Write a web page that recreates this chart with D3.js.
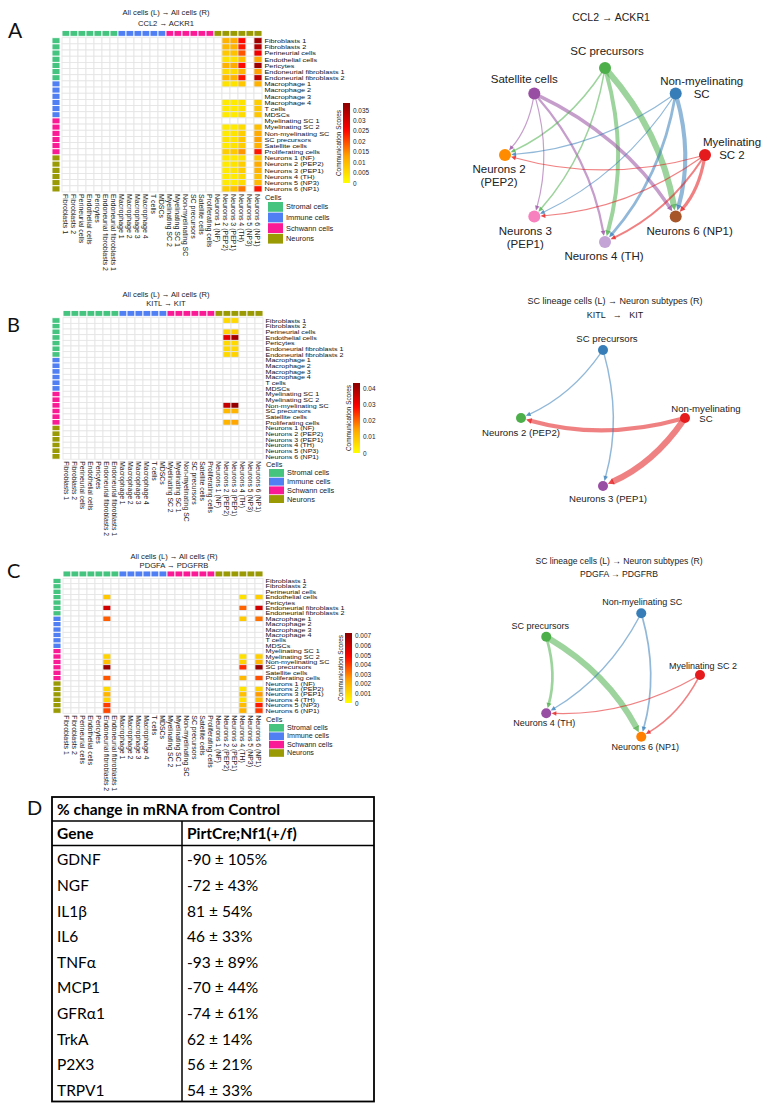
<!DOCTYPE html>
<html>
<head>
<meta charset="utf-8">
<script src="https://cdn.jsdelivr.net/npm/d3@7"></script>
<style>
  body { margin: 0; background: #fff; }
  svg text { font-family: "Liberation Sans", Arial, sans-serif; }
  .tbl text { font-family: Lato, "Liberation Sans", sans-serif; }
</style>
</head>
<body>
<svg id="fig" width="763" height="1108"></svg>
<script>
// ---------------- data ----------------
const cellTypes = ["Fibroblasts 1","Fibroblasts 2","Perineurial cells","Endothelial cells","Pericytes",
  "Endoneurial fibroblasts 1","Endoneurial fibroblasts 2","Macrophage 1","Macrophage 2","Macrophage 3",
  "Macrophage 4","T cells","MDSCs","Myelinating SC 1","Myelinating SC 2","Non-myelinating SC",
  "SC precursors","Satellite cells","Proliferating cells","Neurons 1 (NF)","Neurons 2 (PEP2)",
  "Neurons 3 (PEP1)","Neurons 4 (TH)","Neurons 5 (NP3)","Neurons 6 (NP1)"];
const receiverOrder = ["Fibroblasts 1","Fibroblasts 2","Perineurial cells","Endothelial cells","Pericytes",
  "Endoneurial fibroblasts 2","Endoneurial fibroblasts 1","Macrophage 1","Macrophage 2","Macrophage 3",
  "Macrophage 4","T cells","MDSCs","Myelinating SC 2","Myelinating SC 1","Non-myelinating SC",
  "SC precursors","Satellite cells","Proliferating cells","Neurons 1 (NF)","Neurons 2 (PEP2)",
  "Neurons 3 (PEP1)","Neurons 4 (TH)","Neurons 5 (NP3)","Neurons 6 (NP1)"];
const groupNames = ["Stromal cells","Immune cells","Schwann cells","Neurons"];
const groupSizes = [7, 6, 6, 6];
const groupColors = ["#45c47f","#4f7ff2","#fb1a95","#9a9a05"];

// CCL2 -> ACKR1 (rows: senders, values for the receivers listed)
const ccl2Receivers = ["Neurons 2 (PEP2)","Neurons 3 (PEP1)","Neurons 4 (TH)","Neurons 6 (NP1)"];
const ccl2Scores = [
  [0.011,0.012,0.025,0.036],
  [0.010,0.011,0.024,0.034],
  [0.008,0.009,0.019,0.027],
  [0.004,0.004,0.009,0.012],
  [0.011,0.012,0.025,0.036],
  [0.005,0.005,0.011,0.013],
  [0.010,0.011,0.024,0.033],
  [0.004,0.004,0.008,0.011],
  null,
  null,
  [0.003,0.003,0.004,0.007],
  [0.003,0.003,0.004,0.008],
  [0.003,0.003,0.005,0.008],
  null,
  [0.003,0.003,0.005,0.009],
  [0.003,0.004,0.007,0.012],
  [0.004,0.004,0.008,0.013],
  [0.003,0.004,0.007,0.011],
  [0.007,0.008,0.014,0.024],
  [0.003,0.003,0.004,0.008],
  [0.003,0.004,0.007,0.012],
  [0.003,0.004,0.007,0.011],
  [0.003,0.003,0.005,0.009],
  [0.003,0.003,0.005,0.010],
  [0.007,0.009,0.016,0.024]
];
const ccl2Ticks = [0,0.005,0.01,0.015,0.02,0.025,0.03,0.035];

// KITL -> KIT
const kitReceivers = ["Neurons 2 (PEP2)","Neurons 3 (PEP1)"];
const kitScores = [
  [0.006,0.006], null, [0.007,0.008], [0.032,0.040], [0.006,0.006], [0.006,0.006], [0.006,0.007],
  null, null, null, null, null, null, null, null,
  [0.036,0.042], [0.011,0.012], null, [0.012,0.014],
  null, null, null, null, null, null
];
const kitTicks = [0,0.01,0.02,0.03,0.04];

// PDGFA -> PDGFRB
const pdgfReceivers = ["Endoneurial fibroblasts 2","Neurons 4 (TH)","Neurons 6 (NP1)"];
const pdgfScores = [
  null, null, null,
  [0.0015,0.0008,0.0013],
  null,
  [0.0058,0.0034,0.0058],
  null,
  [0.0035,0.0014,0.0032],
  null, null, null, null, null, null,
  [0.0012,0.0008,0.0013],
  [0.0017,0.0012,0.0020],
  [0.0070,0.0042,0.0071],
  null,
  [0.0036,0.0019,0.0037],
  null,
  [0.0010,0.0007,0.0012],
  [0.0020,0.0017,0.0026],
  [0.0012,0.0008,0.0018],
  [0.0040,0.0018,0.0045],
  [0.0038,0.0020,0.0040]
];
const pdgfTicks = [0,0.001,0.002,0.003,0.004,0.005,0.006,0.007];

// circle-plot networks (relative interaction strength, senders x targets)
const ccl2Nodes = ["Myelinating SC 2","Neurons 6 (NP1)","Neurons 4 (TH)","Neurons 3 (PEP1)",
  "Neurons 2 (PEP2)","Satellite cells","SC precursors","Non-myelinating SC"];
const ccl2NodeColors = ["#e41a1c","#a65628","#c4a3d6","#f781bf","#ff8c00","#984ea3","#4daf4a","#377eb8"];
const ccl2Senders = ["SC precursors","Satellite cells","Non-myelinating SC","Myelinating SC 2"];
const ccl2Targets = ["Neurons 2 (PEP2)","Neurons 3 (PEP1)","Neurons 4 (TH)","Neurons 6 (NP1)"];
const ccl2Strength = [[0.2,0.2,0.62,1],[0.15,0.15,0.33,0.55],[0.15,0.15,0.42,0.65],[0.15,0.15,0.3,0.5]];

const kitNodes = ["Non-myelinating SC","Neurons 3 (PEP1)","Neurons 2 (PEP2)","SC precursors"];
const kitNodeColors = ["#e41a1c","#984ea3","#4daf4a","#377eb8"];
const kitSenders = ["SC precursors","Non-myelinating SC"];
const kitTargets = ["Neurons 2 (PEP2)","Neurons 3 (PEP1)"];
const kitStrength = [[0.17,0.2],[0.66,1]];

const pdgfNodes = ["Myelinating SC 2","Neurons 6 (NP1)","Neurons 4 (TH)","SC precursors","Non-myelinating SC"];
const pdgfNodeColors = ["#e41a1c","#ff7f00","#984ea3","#4daf4a","#377eb8"];
const pdgfSenders = ["SC precursors","Non-myelinating SC","Myelinating SC 2"];
const pdgfTargets = ["Neurons 4 (TH)","Neurons 6 (NP1)"];
const pdgfStrength = [[0.42,1],[0.17,0.25],[0.17,0.22]];

// qPCR table
const tableGenes = ["GDNF","NGF","IL1β","IL6","TNFα","MCP1","GFRα1","TrkA","P2X3","TRPV1"];
const tableMean = [-90,-72,81,46,-93,-70,-74,62,56,54];
const tableErr = [105,43,54,33,89,44,61,14,21,33];

// ---------------- drawing ----------------
const svg = d3.select("#fig");
const defs = svg.append("defs");
const heatRamp = ["#ffff00","#ffa500","#ff0000","#8b0000"];
const groupOf = [];
groupSizes.forEach((n, gi) => { for (let i = 0; i < n; i++) groupOf.push(gi); });
const fmt = v => String(+v.toFixed(4));

function panelLetter(t, x, y, size) {
  svg.append("text").attr("x", x).attr("y", y).attr("font-size", size)
    .style("font-family", "Lato, 'Liberation Sans', sans-serif").attr("fill", "#111").text(t);
}

function drawHeatmap(p) {
  const g = svg.append("g");
  const nR = cellTypes.length;
  const x = d3.scaleBand().domain(receiverOrder).range([p.gx, p.gx + 200]);
  const y = d3.scaleBand().domain(cellTypes).range([p.gy, p.gy + nR * p.rowH]);
  const color = d3.scaleLinear().domain([0, p.max / 3, 2 * p.max / 3, p.max]).range(heatRamp).clamp(true);

  // titles
  p.titles.forEach((t, i) => {
    g.append("text").attr("x", p.titleX).attr("y", p.titleY[i]).attr("text-anchor", "middle")
      .attr("dominant-baseline", "central").attr("font-size", 7.6).attr("fill", "#222")
      .style("white-space", "pre").text(t);
  });

  const cells = [];
  cellTypes.forEach((src, i) => receiverOrder.forEach(tgt => {
    const k = p.receivers.indexOf(tgt);
    const v = (k >= 0 && p.scores[i]) ? p.scores[i][k] : null;
    cells.push({ src, tgt, v });
  }));
  g.selectAll("rect.cell").data(cells).join("rect").attr("class", "cell")
    .attr("x", d => x(d.tgt)).attr("y", d => y(d.src))
    .attr("width", x.bandwidth()).attr("height", y.bandwidth())
    .attr("fill", d => d.v == null ? "#fff" : color(d.v))
    .attr("stroke", "#e4e4e4").attr("stroke-width", 0.8);

  // group annotations
  g.selectAll("rect.colann").data(receiverOrder).join("rect").attr("class", "colann")
    .attr("x", d => x(d)).attr("y", p.colBarY).attr("width", x.bandwidth())
    .attr("height", p.gy - p.colBarY - 1.4)
    .attr("fill", d => groupColors[groupOf[cellTypes.indexOf(d)]])
    .attr("stroke", "#fff").attr("stroke-width", 0.9);
  g.selectAll("rect.rowann").data(cellTypes).join("rect").attr("class", "rowann")
    .attr("x", p.rowBarX).attr("y", d => y(d)).attr("width", 8).attr("height", y.bandwidth())
    .attr("fill", (d, i) => groupColors[groupOf[i]])
    .attr("stroke", "#fff").attr("stroke-width", 0.9);

  // row labels: compact glyph height so neighbouring rows stay apart, widened to the usual width
  const fsRow = p.rowH * 0.98, sxRow = p.labelSize / fsRow;
  g.selectAll("text.rowlab").data(cellTypes).join("text").attr("class", "rowlab")
    .attr("transform", d => `translate(${p.gx + 202.5},${y(d) + y.bandwidth() / 2}) scale(${sxRow},1)`)
    .attr("dominant-baseline", "central").attr("font-size", fsRow).attr("fill", "#111").text(d => d);
  g.selectAll("text.collab").data(receiverOrder).join("text").attr("class", "collab")
    .attr("transform", d => `translate(${x(d) + x.bandwidth() / 2 - 0.2},${p.gy + nR * p.rowH + 2}) rotate(90)`)
    .attr("dominant-baseline", "central").attr("font-size", p.labelSize - 0.3).attr("fill", "#222").text(d => d);

  // colour bar
  const gid = "grad" + p.id;
  const grad = defs.append("linearGradient").attr("id", gid).attr("x1", 0).attr("y1", 1).attr("x2", 0).attr("y2", 0);
  d3.range(0, 1.0001, 0.05).forEach(t => grad.append("stop").attr("offset", t).attr("stop-color", color(t * p.max)));
  g.append("rect").attr("x", p.barX).attr("y", p.barY).attr("width", 7).attr("height", p.barH)
    .attr("fill", `url(#${gid})`);
  const bs = d3.scaleLinear().domain([0, p.max]).range([p.barY + p.barH, p.barY]);
  g.selectAll("text.tick").data(p.ticks).join("text").attr("class", "tick")
    .attr("x", p.barX + 10).attr("y", d => bs(d)).attr("dominant-baseline", "central")
    .attr("font-size", 6.4).attr("fill", "#222").text(fmt);
  g.append("text").attr("transform", `translate(${p.barX - 4.5},${p.barY + p.barH / 2}) rotate(-90)`)
    .attr("text-anchor", "middle").attr("dominant-baseline", "central").attr("font-size", 6.4)
    .attr("fill", "#222").text("Communication Scores");

  // group legend
  const lx = p.gx + 206;
  g.append("text").attr("x", p.gx + 203).attr("y", p.cellsY).attr("dominant-baseline", "central")
    .attr("font-size", 7.4).attr("fill", "#222").text("Cells");
  groupNames.forEach((name, i) => {
    const yy = p.cellsY + 5 + i * p.legStep;
    g.append("rect").attr("x", lx).attr("y", yy).attr("width", 15).attr("height", p.legStep - 0.8)
      .attr("fill", groupColors[i]);
    g.append("text").attr("x", lx + 18).attr("y", yy + (p.legStep - 0.8) / 2)
      .attr("dominant-baseline", "central").attr("font-size", Math.min(7.4, p.legStep * 0.85))
      .attr("fill", "#222").text(name);
  });
}

function drawNetwork(p) {
  const g = svg.append("g");
  const n = p.nodes.length;
  const ang = d3.scaleLinear().domain([0, n]).range([0, 2 * Math.PI]);
  const pos = new Map(p.nodes.map((name, i) => [name,
    [p.cx + p.rx * Math.cos(ang(i)), p.cy + p.ry * Math.sin(ang(i))]]));
  const col = new Map(p.nodes.map((name, i) => [name, p.colors[i]]));
  const width = d3.scaleLinear().domain([0, 1]).range([0.3, p.maxW]);

  p.titles.forEach((t, i) => {
    g.append("text").attr("x", p.titleX).attr("y", p.titleY[i]).attr("text-anchor", "middle")
      .attr("dominant-baseline", "central").attr("font-size", p.titleSize).attr("fill", "#222")
      .style("white-space", "pre").text(t);
  });

  const edges = [];
  p.senders.forEach((s, i) => p.targets.forEach((t, j) => edges.push({ s, t, w: p.strength[i][j] })));
  edges.sort((a, b) => b.w - a.w);

  edges.forEach(e => {
    const [x0, y0] = pos.get(e.s), [x2, y2] = pos.get(e.t);
    const dx = x2 - x0, dy = y2 - y0, len = Math.hypot(dx, dy);
    const cx = (x0 + x2) / 2 + dy / len * len * 0.14;
    const cy = (y0 + y2) / 2 - dx / len * len * 0.14;
    const sw = Math.max(0.9, width(e.w));
    let ux = x2 - cx, uy = y2 - cy; const ul = Math.hypot(ux, uy); ux /= ul; uy /= ul;
    let vx = cx - x0, vy = cy - y0; const vl = Math.hypot(vx, vy); vx /= vl; vy /= vl;
    const tipX = x2 - ux * (p.r + 0.3), tipY = y2 - uy * (p.r + 0.3);
    const aL = 4.5 + sw * 0.25, aH = 2 + sw * 0.2;
    const bX = tipX - ux * aL, bY = tipY - uy * aL;
    const sX = x0 + vx * p.r * 0.6, sY = y0 + vy * p.r * 0.6;
    const c = col.get(e.s);
    g.append("path").attr("d", `M${sX},${sY}Q${cx},${cy} ${bX + ux},${bY + uy}`)
      .attr("fill", "none").attr("stroke", c).attr("stroke-opacity", 0.55).attr("stroke-width", sw);
    g.append("path")
      .attr("d", `M${tipX},${tipY}L${bX - uy * aH},${bY + ux * aH}L${bX + uy * aH},${bY - ux * aH}Z`)
      .attr("fill", c).attr("fill-opacity", 0.8);
  });

  g.selectAll("circle").data(p.nodes).join("circle")
    .attr("cx", d => pos.get(d)[0]).attr("cy", d => pos.get(d)[1]).attr("r", p.r)
    .attr("fill", d => col.get(d));

  p.nodes.forEach(name => {
    const [nx, ny] = pos.get(name);
    const pl = p.labels[name];
    pl.lines.forEach((line, k) => {
      g.append("text").attr("x", nx + pl.dx).attr("y", ny + pl.dy + k * p.lineH)
        .attr("text-anchor", "middle").attr("dominant-baseline", "central")
        .attr("font-size", p.labelSize).attr("fill", "#222").text(line);
    });
  });
}

// ----- A -----
panelLetter("A", 8, 38, 21);
drawHeatmap({ id: "A", gx: 62, gy: 37.7, rowH: 6.17, colBarY: 30.5, rowBarX: 52,
  titles: ["All cells (L) \u2192 All cells (R)", "CCL2 \u2192 ACKR1"], titleX: 166, titleY: [12.5, 23],
  receivers: ccl2Receivers, scores: ccl2Scores, max: 0.0384, ticks: ccl2Ticks,
  barX: 343, barY: 103, barH: 80, labelSize: 7.3, cellsY: 197, legStep: 10.6 });
drawNetwork({ nodes: ccl2Nodes, colors: ccl2NodeColors, senders: ccl2Senders, targets: ccl2Targets,
  strength: ccl2Strength, cx: 605, cy: 155, rx: 100, ry: 87, r: 6, maxW: 6.2,
  titles: ["CCL2 \u2192 ACKR1"], titleX: 611, titleY: [17], titleSize: 10.5, labelSize: 11.5, lineH: 13,
  labels: {
    "SC precursors": { dx: 2, dy: -17, lines: ["SC precursors"] },
    "Satellite cells": { dx: -10, dy: -14, lines: ["Satellite cells"] },
    "Non-myelinating SC": { dx: 26, dy: -12, lines: ["Non-myelinating", "SC"] },
    "Myelinating SC 2": { dx: 27, dy: -13, lines: ["Myelinating", "SC 2"] },
    "Neurons 2 (PEP2)": { dx: -6, dy: 14, lines: ["Neurons 2", "(PEP2)"] },
    "Neurons 3 (PEP1)": { dx: -9, dy: 14, lines: ["Neurons 3", "(PEP1)"] },
    "Neurons 4 (TH)": { dx: -1, dy: 14, lines: ["Neurons 4 (TH)"] },
    "Neurons 6 (NP1)": { dx: 14, dy: 14, lines: ["Neurons 6 (NP1)"] }
  } });

// ----- B -----
panelLetter("B", 7, 332, 20);
drawHeatmap({ id: "B", gx: 63, gy: 317.7, rowH: 5.66, colBarY: 310.5, rowBarX: 52,
  titles: ["All cells (L) \u2192 All cells (R)", "KITL \u2192 KIT"], titleX: 166, titleY: [294, 303],
  receivers: kitReceivers, scores: kitScores, max: 0.0431, ticks: kitTicks,
  barX: 353, barY: 383, barH: 70, labelSize: 7.1, cellsY: 464, legStep: 8.7 });
drawNetwork({ nodes: kitNodes, colors: kitNodeColors, senders: kitSenders, targets: kitTargets,
  strength: kitStrength, cx: 603, cy: 418, rx: 82, ry: 68, r: 5, maxW: 6.2,
  titles: ["SC lineage cells (L) \u2192 Neuron subtypes (R)", "KITL   \u2192   KIT"], titleX: 615,
  titleY: [301, 315], titleSize: 9, labelSize: 9.6, lineH: 10.5,
  labels: {
    "SC precursors": { dx: 4, dy: -12, lines: ["SC precursors"] },
    "Neurons 2 (PEP2)": { dx: 0, dy: 14, lines: ["Neurons 2 (PEP2)"] },
    "Non-myelinating SC": { dx: 21, dy: -10, lines: ["Non-myelinating", "SC"] },
    "Neurons 3 (PEP1)": { dx: 5, dy: 12, lines: ["Neurons 3 (PEP1)"] }
  } });

// ----- C -----
panelLetter("C", 7, 578, 20);
drawHeatmap({ id: "C", gx: 63, gy: 578.3, rowH: 5.4, colBarY: 571, rowBarX: 53,
  titles: ["All cells (L) \u2192 All cells (R)", "PDGFA \u2192 PDGFRB"], titleX: 174, titleY: [556, 565],
  receivers: pdgfReceivers, scores: pdgfScores, max: 0.0073, ticks: pdgfTicks,
  barX: 345, barY: 633, barH: 70, labelSize: 7.2, cellsY: 719, legStep: 8.4 });
drawNetwork({ nodes: pdgfNodes, colors: pdgfNodeColors, senders: pdgfSenders, targets: pdgfTargets,
  strength: pdgfStrength, cx: 615, cy: 675, rx: 85, ry: 65, r: 5, maxW: 6,
  titles: ["SC lineage cells (L) \u2192 Neuron subtypes (R)", "PDGFA \u2192 PDGFRB"], titleX: 619,
  titleY: [561, 574], titleSize: 8.6, labelSize: 9, lineH: 10,
  labels: {
    "Non-myelinating SC": { dx: 1, dy: -11, lines: ["Non-myelinating SC"] },
    "SC precursors": { dx: -6, dy: -11, lines: ["SC precursors"] },
    "Myelinating SC 2": { dx: 3, dy: -9, lines: ["Myelinating SC 2"] },
    "Neurons 4 (TH)": { dx: -2, dy: 10, lines: ["Neurons 4 (TH)"] },
    "Neurons 6 (NP1)": { dx: 4, dy: 10, lines: ["Neurons 6 (NP1)"] }
  } });

// ----- D: table -----
panelLetter("D", 27, 815, 20);
(function drawTable() {
  const t = svg.append("g").attr("class", "tbl");
  const left = 52, right = 374, top = 797, divX = 182;
  const h1 = 24, h2 = 24.5, rowH = 25.6;
  const y = d3.scaleBand().domain(tableGenes).range([top + h1 + h2, top + h1 + h2 + rowH * tableGenes.length]);
  const bottom = y.range()[1];
  const fs = 15.5;
  t.append("rect").attr("x", left).attr("y", top).attr("width", right - left).attr("height", bottom - top)
    .attr("fill", "none").attr("stroke", "#000").attr("stroke-width", 1.8);
  t.append("line").attr("x1", left).attr("x2", right).attr("y1", top + h1).attr("y2", top + h1)
    .attr("stroke", "#000").attr("stroke-width", 1.5);
  t.append("line").attr("x1", left).attr("x2", right).attr("y1", top + h1 + h2).attr("y2", top + h1 + h2)
    .attr("stroke", "#000").attr("stroke-width", 1.5);
  t.append("line").attr("x1", divX).attr("x2", divX).attr("y1", top + h1).attr("y2", bottom)
    .attr("stroke", "#000").attr("stroke-width", 1.5);
  t.append("text").attr("x", left + 5).attr("y", top + h1 / 2).attr("dominant-baseline", "central")
    .attr("font-size", fs).attr("font-weight", "bold").text("% change in mRNA from Control");
  t.append("text").attr("x", left + 5).attr("y", top + h1 + h2 / 2).attr("dominant-baseline", "central")
    .attr("font-size", fs).attr("font-weight", "bold").text("Gene");
  t.append("text").attr("x", divX + 5).attr("y", top + h1 + h2 / 2).attr("dominant-baseline", "central")
    .attr("font-size", fs).attr("font-weight", "bold").text("PirtCre;Nf1(+/f)");
  tableGenes.forEach((gname, i) => {
    const cy = y(gname) + y.bandwidth() / 2 + 1;
    t.append("text").attr("x", left + 5).attr("y", cy).attr("dominant-baseline", "central")
      .attr("font-size", fs).text(gname);
    t.append("text").attr("x", divX + 5).attr("y", cy).attr("dominant-baseline", "central")
      .attr("font-size", fs).text(`${tableMean[i]} \u00b1 ${tableErr[i]}%`);
  });
})();
</script>
</body>
</html>
